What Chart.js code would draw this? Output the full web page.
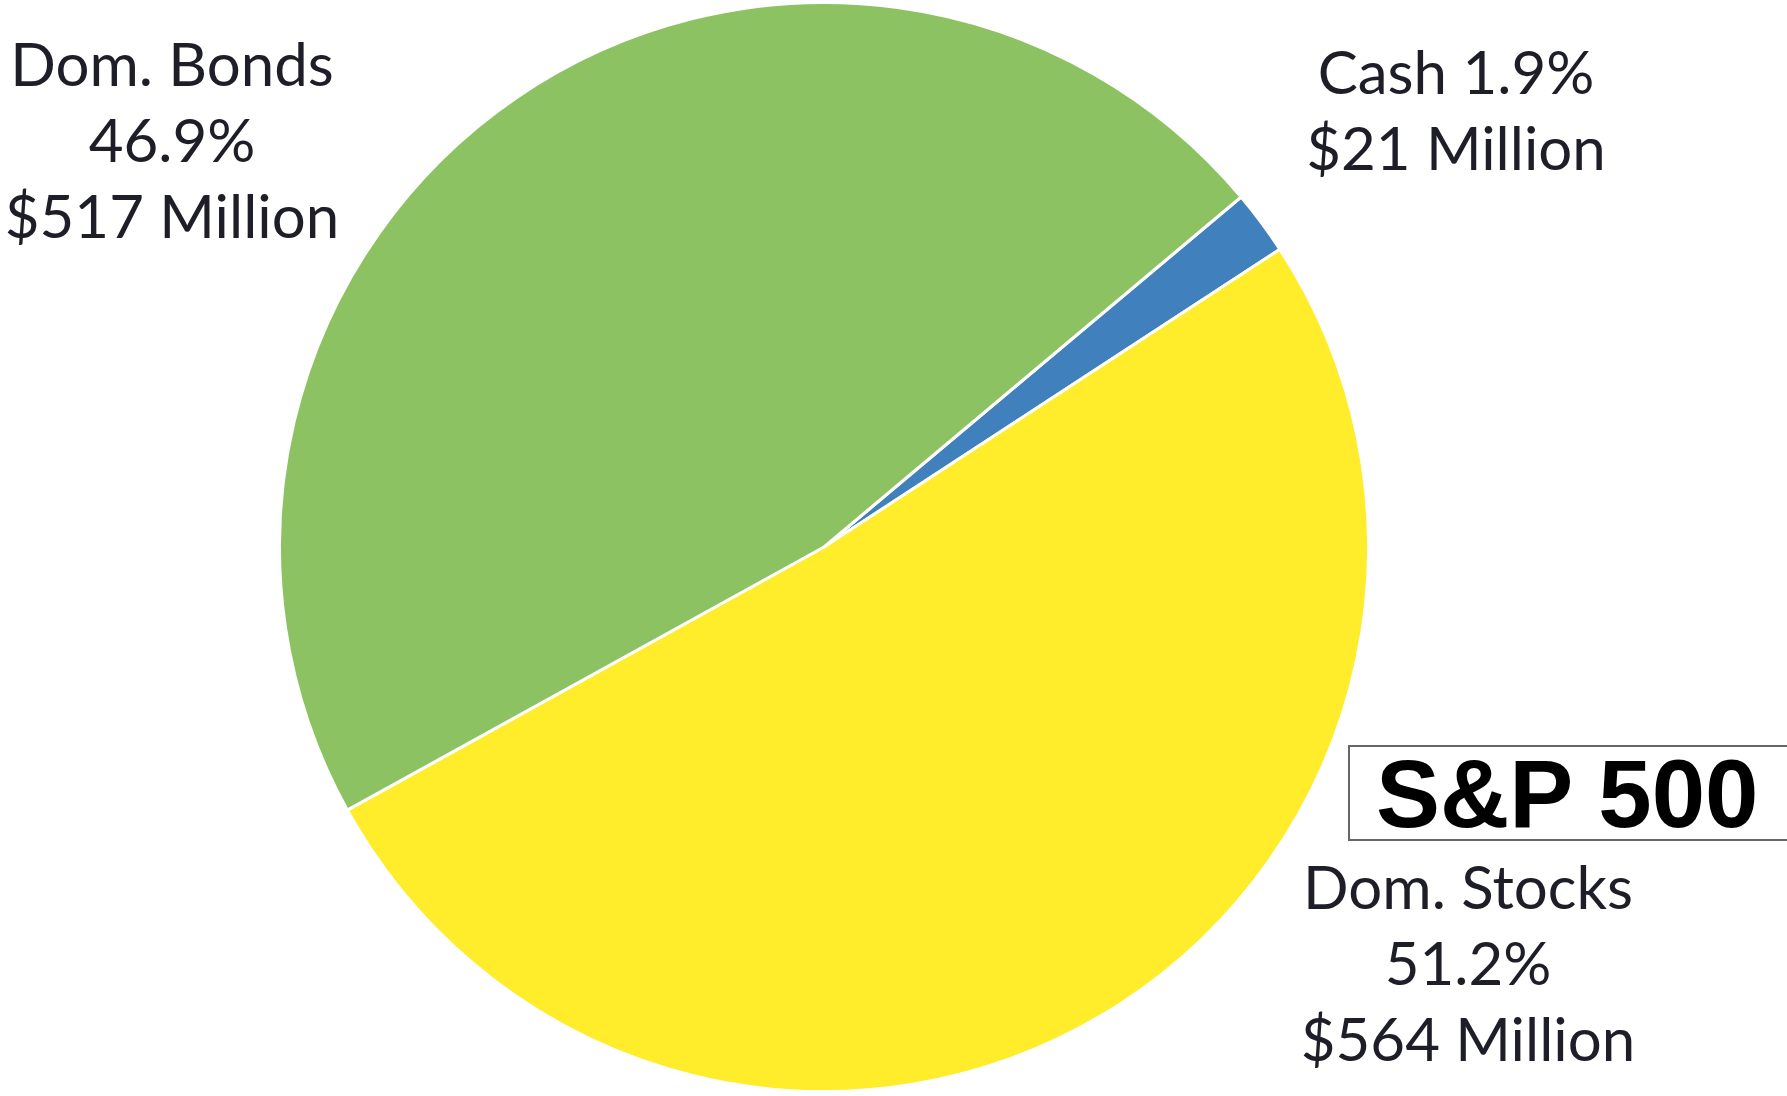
<!DOCTYPE html>
<html>
<head>
<meta charset="utf-8">
<script src="https://cdn.jsdelivr.net/npm/chart.js@4.4.1/dist/chart.umd.min.js"></script>
<style>
  body { margin: 0; background: #fff; }
  #wrap { position: relative; width: 1787px; height: 1096px; overflow: hidden; }
  .etiqueta {
    position: absolute; width: 440px; text-align: center;
    font-family: Lato, "Noto Sans", sans-serif; font-size: 60px; line-height: 76px;
    color: #1e1e28; white-space: nowrap;
  }
  #caja {
    position: absolute; left: 1348px; top: 745px; width: 470px; height: 91px;
    border: 2px solid #666; padding-left: 26px; padding-top: 1px; box-sizing: content-box;
    font-family: "Liberation Sans", Arial, sans-serif; font-weight: bold; font-size: 96px; line-height: 91px;
    color: #000; white-space: nowrap;
  }
</style>
</head>
<body>
<div id="wrap">
  <canvas id="pastel" width="1787" height="1096"></canvas>
  <div id="caja">S&amp;P 500</div>
</div>
<script>
// DATOS
const categorias = ['Cash', 'Dom. Stocks', 'Dom. Bonds'];
const millones = [21, 564, 517];
const porcentajes = [1.9, 51.2, 46.9];
const colores = ['#4080bd', '#ffec2b', '#8dc263'];

// posicion de las etiquetas (centro x, primera linea y)
const posEtiquetas = [
  { x: 1456, y: 33, unaLinea: true },
  { x: 1468, y: 848, unaLinea: false },
  { x: 172, y: 25, unaLinea: false }
];

new Chart(document.getElementById('pastel'), {
  type: 'pie',
  data: {
    labels: categorias,
    datasets: [{
      data: millones,
      backgroundColor: colores,
      borderColor: '#ffffff',
      borderWidth: 3
    }]
  },
  options: {
    responsive: false,
    animation: false,
    rotation: 50,
    layout: { padding: { left: 278, right: 417, top: 1, bottom: 3 } },
    plugins: {
      legend: { display: false },
      tooltip: { enabled: false }
    }
  }
});

const wrap = document.getElementById('wrap');
categorias.forEach((cat, i) => {
  const p = posEtiquetas[i];
  const div = document.createElement('div');
  div.className = 'etiqueta';
  div.style.left = (p.x - 220) + 'px';
  div.style.top = p.y + 'px';
  const monto = `$${millones[i]} Million`;
  div.innerHTML = p.unaLinea
    ? `${cat} ${porcentajes[i]}%<br>${monto}`
    : `${cat}<br>${porcentajes[i]}%<br>${monto}`;
  wrap.appendChild(div);
});
</script>
</body>
</html>
